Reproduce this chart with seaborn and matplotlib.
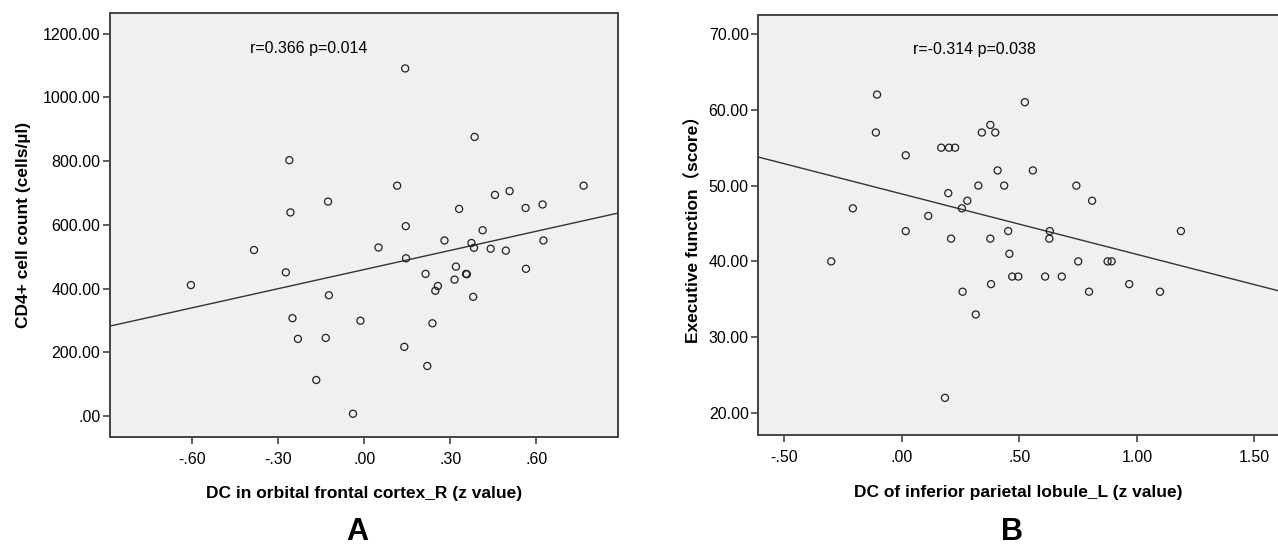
"""
Correlation scatter plots (SPSS style) — DC z values vs CD4+ count / executive function.
"""

import matplotlib
matplotlib.use("Agg")
import matplotlib.pyplot as plt
import numpy as np
import seaborn as sns
from matplotlib.ticker import FixedLocator, FuncFormatter

# panel A: DC in orbital frontal cortex_R vs CD4+ cell count
dc_ofc = [-0.261, -0.126, -0.257, -0.384, 0.050, -0.604, -0.273, -0.123, -0.250, -0.013,
          -0.231, -0.134, -0.167, -0.039, 0.143, 0.385, 0.115, 0.765, 0.456, 0.507,
          0.331, 0.563, 0.622, 0.145, 0.413, 0.280, 0.374, 0.383, 0.441, 0.494,
          0.625, 0.146, 0.214, 0.320, 0.315, 0.355, 0.358, 0.257, 0.248, 0.380,
          0.564, 0.238, 0.140, 0.220]
cd4_count = [803, 673, 639, 521, 529, 411, 451, 379, 307, 299,
             242, 245, 113, 7, 1091, 876, 723, 723, 694, 706,
             650, 653, 664, 596, 583, 551, 543, 528, 525, 519,
             551, 495, 446, 469, 428, 446, 445, 408, 393, 374,
             462, 291, 217, 157]

# panel B: DC of inferior parietal lobule_L vs executive function
dc_ipl = [-0.106, -0.111, 0.016, 0.167, 0.200, 0.226, 0.340, 0.376, 0.397, 0.523,
          0.407, 0.325, 0.435, 0.197, 0.278, 0.255, -0.209, 0.112, 0.016, 0.209,
          0.376, 0.452, -0.301, 0.457, 0.469, 0.495, 0.379, 0.258, 0.314, 0.183,
          0.557, 0.742, 0.809, 0.629, 0.627, 1.187, 0.750, 0.875, 0.892, 0.609,
          0.680, 0.796, 0.967, 1.098]
exec_score = [62, 57, 54, 55, 55, 55, 57, 58, 57, 61,
              52, 50, 50, 49, 48, 47, 47, 46, 44, 43,
              43, 44, 40, 41, 38, 38, 37, 36, 33, 22,
              52, 50, 48, 44, 43, 44, 40, 40, 40, 38,
              38, 36, 37, 36]

xticks_a = [-0.6, -0.3, 0.0, 0.3, 0.6]
yticks_a = [0, 200, 400, 600, 800, 1000, 1200]
xticks_b = [-0.5, 0.0, 0.5, 1.0, 1.5]
yticks_b = [20, 30, 40, 50, 60, 70]

sns.set_style("white", {"axes.facecolor": "#f0f0f0", "axes.edgecolor": "#444444",
                        "text.color": "black", "axes.labelcolor": "black",
                        "xtick.color": "#444444", "ytick.color": "#444444"})
plt.rcParams["font.family"] = ["Liberation Sans", "Noto Sans CJK SC", "DejaVu Sans"]

INK = "#222222"


def spss_fmt(v, _pos=None):
    s = f"{v:.2f}"
    if s.startswith("0."):
        s = s[1:]
    elif s.startswith("-0."):
        s = "-" + s[2:]
    return s


def style_axes(ax, xticks, yticks):
    ax.xaxis.set_major_locator(FixedLocator(xticks))
    ax.yaxis.set_major_locator(FixedLocator(yticks))
    ax.xaxis.set_major_formatter(FuncFormatter(spss_fmt))
    ax.yaxis.set_major_formatter(FuncFormatter(spss_fmt))
    ax.tick_params(bottom=True, left=True, direction="out", length=5, width=1.2,
                   color="#444444", labelsize=11.5, labelcolor="black", pad=2)
    ax.tick_params(axis="x", pad=6)
    for sp in ax.spines.values():
        sp.set_linewidth(1.4)


def draw_panel(ax, x, y, xlim, ylim):
    ax.set_xlim(*xlim)
    ax.set_ylim(*ylim)
    sns.regplot(x=np.array(x), y=np.array(y), ax=ax, ci=None, truncate=False,
                scatter_kws=dict(s=26, facecolors="none", edgecolors=INK,
                                 linewidths=0.9, alpha=1, zorder=3),
                line_kws=dict(color="#333333", lw=1.0))
    ax.set_xlim(*xlim)
    ax.set_ylim(*ylim)


fig = plt.figure(figsize=(12.78, 5.48), dpi=100)
ax_a = fig.add_axes([0.0861, 0.2031, 0.3977, 0.7726])
ax_b = fig.add_axes([0.5934, 0.2062, 0.4066, 0.7664])

draw_panel(ax_a, dc_ofc, cd4_count, (-0.886, 0.886), (-65, 1264))
style_axes(ax_a, xticks_a, yticks_a)
ax_a.set_xlabel("DC in orbital frontal cortex_R (z value)", fontsize=12.5,
                fontweight="bold", labelpad=14)
ax_a.set_ylabel("CD4+ cell count (cells/µl)", fontsize=12.5, fontweight="bold", labelpad=8)
ax_a.text(-0.398, 1155, "r=0.366 p=0.014", fontsize=11.5, va="center")

draw_panel(ax_b, dc_ipl, exec_score, (-0.611, 1.60), (17.1, 72.5))
style_axes(ax_b, xticks_b, yticks_b)
ax_b.spines["right"].set_visible(False)
ax_b.set_xlabel("DC of inferior parietal lobule_L (z value)", fontsize=12.5,
                fontweight="bold", labelpad=14)
ax_b.set_ylabel("Executive function（score）", fontsize=12.5, fontweight="bold", labelpad=5)
ax_b.text(0.047, 67.9, "r=-0.314 p=0.038", fontsize=11.5, va="center")

fig.text(357 / 1278, 0.5 / 548, "A", fontsize=22, fontweight="bold",
         ha="center", va="bottom")
fig.text(1012 / 1278, 0.5 / 548, "B", fontsize=22, fontweight="bold",
         ha="center", va="bottom")

fig.savefig("out.png", dpi=100)
